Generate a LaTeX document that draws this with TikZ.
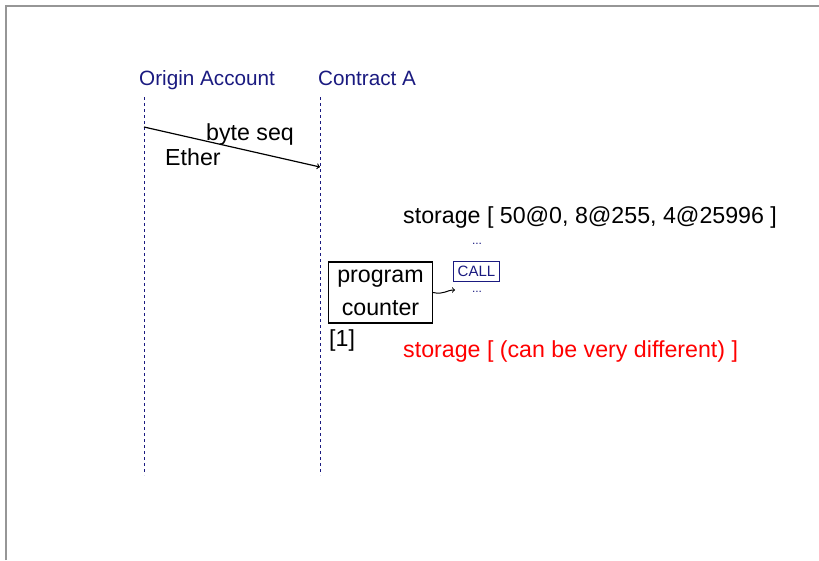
\documentclass[tikz,border=0pt]{standalone}
\usepackage{fontspec}
\setmainfont{Liberation Sans}
\definecolor{navyblue}{RGB}{26,26,128}
\definecolor{framegray}{RGB}{150,150,150}
\tikzset{
  txt/.style={anchor=base west, inner sep=0pt, font=\fontsize{23.2}{27}\selectfont},
  lbl/.style={txt, text=navyblue, font=\fontsize{20.7}{24}\selectfont},
  dots/.style={anchor=base, inner sep=0pt, text=navyblue, font=\fontsize{12}{14}\selectfont},
  lifeline/.style={navyblue, line width=1pt, dash pattern=on 3pt off 3pt},
  msg/.style={->, line width=1.2pt}
}
\begin{document}
\begin{tikzpicture}[x=1pt, y=-1pt]
    \useasboundingbox (0,0) rectangle (819,560);
    \draw[framegray, line width=2pt] (5.5,560) -- (5.5,6) -- (819,6);
    % lifelines
    \node[lbl] (origin) at (139,85) {Origin Account};
    \node[lbl] (contract) at (318,85) {Contract A};
    \coordinate (originTop) at (144,97);
    \coordinate (originEnd) at (144,475);
    \coordinate (contractTop) at (320,97);
    \coordinate (contractEnd) at (320,475);
    \draw[lifeline] (originTop) -- (originEnd);
    \draw[lifeline] (contractTop) -- (contractEnd);
    % message
    \coordinate (sendFrom) at (144,127);
    \coordinate (sendTo) at (320,167);
    \draw[msg] (sendFrom) -- (sendTo);
    \node[txt] (byteseq) at (206,140) {byte seq};
    \node[txt] (ether) at (165,165) {Ether};
    % state of contract A
    \node[txt] (storageA) at (403,223) {storage [ 50@0, 8@255, 4@25996 ]};
    \node[dots] (dotsA) at (477,244) {...};
    \node[draw=navyblue, line width=1pt, inner sep=2pt, text=navyblue,
          font=\fontsize{15}{17}\selectfont, minimum width=46pt, minimum height=20pt]
          (call) at (476.5,271) {CALL};
    \node[dots] (dotsB) at (477,292) {...};
    \node[draw, line width=1.2pt, minimum width=104pt, minimum height=61pt,
          align=center, font=\fontsize{23.2}{33}\selectfont] (pc) at (380.5,292.5) {program\\counter};
    \node[txt] (idx) at (329,346) {[1]};
    \node[txt, text=red] (storageB) at (403,357) {storage [ (can be very different) ]};
    \coordinate (pcTip) at (455,290);
    \draw[msg, line width=1pt] (pc.east) .. controls (444,295) and (446,290) .. (pcTip);
\end{tikzpicture}
\end{document}
